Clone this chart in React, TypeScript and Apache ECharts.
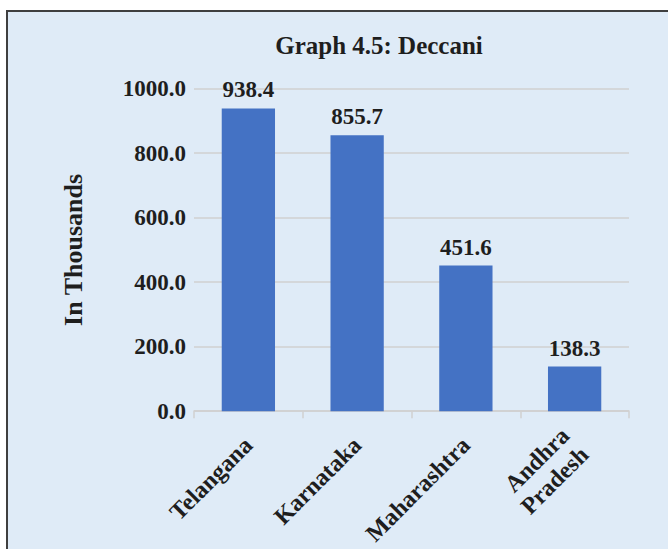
import React, { useEffect, useRef } from "react";
import * as echarts from "echarts";

const categories = ["Telangana", "Karnataka", "Maharashtra", "Andhra\nPradesh"];
const values = [938.4, 855.7, 451.6, 138.3];
const yTicks = { min: 0, max: 1000, interval: 200 };
const titleText = "Graph 4.5: Deccani";
const yAxisName = "In Thousands";

const FONT = "'Liberation Serif', 'DejaVu Serif', serif";
const TEXT = "#1e1e1e";

export default function App() {
  const ref = useRef<HTMLDivElement>(null);
  useEffect(() => {
    if (!ref.current) return;
    const chart = echarts.init(ref.current, undefined, { renderer: "svg" });
    chart.setOption({
      animation: false,
      backgroundColor: "#ffffff",
      graphic: [
        {
          type: "rect",
          z: -10,
          silent: true,
          shape: { x: 7, y: 11, width: 700, height: 600 },
          style: { fill: "#DFEBF7", stroke: "#3f3f3f", lineWidth: 2 },
        },
      ],
      title: {
        text: titleText,
        left: 374,
        top: 28,
        textAlign: "center",
        textStyle: { fontFamily: FONT, fontSize: 25, fontWeight: "bold", color: TEXT },
      },
      grid: { left: 194, right: 39, top: 88.6, bottom: 136.5, containLabel: false },
      xAxis: {
        type: "category",
        data: categories,
        axisLine: { lineStyle: { color: "#D0D0D0", width: 1.5 } },
        axisTick: { show: true, length: 7, lineStyle: { color: "#D0D0D0", width: 1.5 } },
        axisLabel: {
          rotate: 45,
          margin: 30,
          interval: 0,
          fontFamily: FONT,
          fontSize: 24,
          fontWeight: "bold",
          color: TEXT,
          lineHeight: 27,
        },
      },
      yAxis: {
        type: "value",
        min: yTicks.min,
        max: yTicks.max,
        interval: yTicks.interval,
        name: yAxisName,
        nameLocation: "middle",
        nameGap: 108,
        nameTextStyle: { fontFamily: FONT, fontSize: 26, fontWeight: "bold", color: TEXT },
        axisLine: { show: false },
        axisTick: { show: false },
        axisLabel: {
          margin: 8,
          fontFamily: FONT,
          fontSize: 23,
          fontWeight: "bold",
          color: TEXT,
          formatter: (v: number) => v.toFixed(1),
        },
        splitLine: { lineStyle: { color: "#D0D0D0", width: 1.5 } },
      },
      series: [
        {
          type: "bar",
          data: values,
          barWidth: "49%",
          itemStyle: { color: "#4472C4" },
          label: {
            show: true,
            position: "top",
            distance: 7,
            fontFamily: FONT,
            fontSize: 23,
            fontWeight: "bold",
            color: TEXT,
            formatter: (p: any) => Number(p.value).toFixed(1),
          },
        },
      ],
    });
    return () => chart.dispose();
  }, []);
  return (
    <div
      ref={ref}
      style={{ position: "absolute", left: 0, top: 0, width: 668, height: 549 }}
    />
  );
}
